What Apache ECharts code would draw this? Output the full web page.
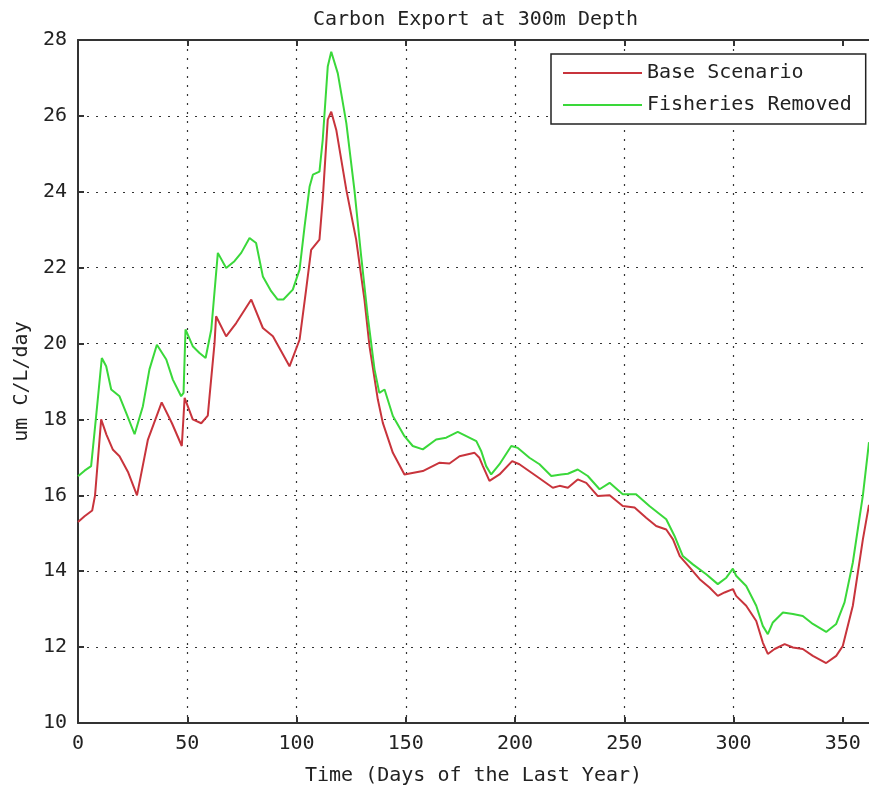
<!DOCTYPE html>
<html>
<head>
<meta charset="utf-8">
<script src="https://cdn.jsdelivr.net/npm/echarts@6/dist/echarts.min.js"></script>
<style>html,body{margin:0;padding:0;background:#fff;}#c{width:869px;height:791px;}</style>
</head>
<body>
<div id="c"></div>
<script>
var titleText = 'Carbon Export at 300m Depth';
var xName = 'Time (Days of the Last Year)';
var yName = 'um C/L/day';
var seriesNames = ['Base Scenario', 'Fisheries Removed'];
var xTicks = [0, 50, 100, 150, 200, 250, 300, 350];
var yTicks = [10, 12, 14, 16, 18, 20, 22, 24, 26, 28];

var baseDays = [0,3,6.5,7.8,10.6,13,16,19,23,27,32,38.3,43,47.5,48.8,52.5,56.4,59.4,60.2,62.5,63.2,67.8,72.4,79.3,84.6,89.2,96.8,101.4,104.4,106.7,110.5,112,114.3,115.9,118.2,122.8,127.3,131.1,133.4,137.2,139.5,144.1,149.4,157.8,165.5,170,174.6,181.5,183.7,185.3,188.3,192.9,198.7,202,209.7,217.3,220.4,224.2,228.7,232.6,237.9,243.3,249.3,254.7,260,264.6,269.2,272.3,275.4,279.9,284.5,289,292.8,295.9,299.7,301.2,305.8,310.4,313.4,315.7,318.8,323.4,327.2,331.7,336.3,342.4,347,350,354.6,359.2,362];
var baseValues = [15.3,15.45,15.6,16.0,18.0,17.6,17.2,17.03,16.6,16.0,17.47,18.45,17.9,17.3,18.57,18.0,17.9,18.1,18.61,20.02,20.72,20.19,20.54,21.16,20.41,20.19,19.40,20.1,21.42,22.47,22.74,23.8,25.9,26.11,25.63,24.05,22.74,21.16,19.93,18.53,17.91,17.12,16.55,16.64,16.86,16.84,17.03,17.12,16.99,16.77,16.38,16.55,16.9,16.82,16.51,16.2,16.25,16.2,16.42,16.33,15.98,16.0,15.72,15.68,15.41,15.19,15.1,14.84,14.4,14.1,13.79,13.57,13.35,13.44,13.53,13.35,13.09,12.69,12.12,11.82,11.95,12.08,11.99,11.95,11.77,11.58,11.77,12.03,13.09,14.84,15.75];

var fishDays = [0,3,6,8.3,10.9,12.9,15.2,19,22,25.9,29.7,32.7,36.1,40.4,43.4,47.2,48.3,49.2,52.5,55.6,58.4,61,64,67.8,71.6,74.7,78.5,81.5,84.6,88.4,91.4,94,98.3,101.4,103.7,106,107.5,110.5,112,114.3,115.9,118.9,122.8,126.5,129.6,132.6,135.7,137.9,140.3,144.1,149.4,153.2,157.8,163.9,168.5,173.8,177.7,182.3,184.5,186.8,189.1,192.9,198.3,201.3,206.6,211.2,216.6,221.1,224.2,228.7,233.3,238.7,243.3,249.3,255.4,261.5,269.2,273,276.8,281.4,287.5,292.8,296.7,299.7,301.2,305.8,310.4,313.4,315.7,318,322.6,327.2,331.7,336.3,342.4,347,350.8,354.6,359.2,362];
var fishValues = [16.5,16.65,16.77,18.09,19.62,19.4,18.79,18.61,18.18,17.61,18.35,19.32,19.97,19.58,19.05,18.61,18.7,20.37,19.93,19.75,19.62,20.37,22.39,21.99,22.17,22.39,22.78,22.65,21.77,21.38,21.16,21.16,21.42,21.95,23.09,24.14,24.45,24.53,25.37,27.3,27.69,27.12,25.81,24.05,22.3,20.72,19.32,18.7,18.79,18.09,17.56,17.3,17.21,17.47,17.52,17.67,17.56,17.43,17.17,16.77,16.55,16.82,17.3,17.25,16.99,16.82,16.51,16.55,16.57,16.68,16.51,16.16,16.33,16.03,16.03,15.72,15.37,14.93,14.4,14.18,13.92,13.66,13.83,14.07,13.88,13.61,13.09,12.56,12.34,12.65,12.91,12.87,12.82,12.61,12.4,12.61,13.18,14.23,16.0,17.4];

function zip(a, b) { return a.map(function (d, i) { return [d, b[i]]; }); }

var FONT = 'DejaVu Sans Mono';
var TXT = '#222';
var chart = echarts.init(document.getElementById('c'), null, { renderer: 'canvas' });
var gridStyle = { type: [2, 7], color: '#333', width: 1.2 };
var axisLineStyle = { color: '#333', width: 2 };
var tickStyle = { color: '#333', width: 2 };

chart.setOption({
  animation: false,
  backgroundColor: '#fff',
  title: {
    text: titleText, left: 308, top: 5,
    textStyle: { fontFamily: FONT, fontSize: 20, fontWeight: 'normal', color: TXT }
  },
  legend: {
    data: seriesNames, orient: 'vertical', left: 551, top: 54,
    padding: [9, 14, 9, 12], itemGap: 12, itemWidth: 79, itemHeight: 2,
    icon: 'rect', borderColor: '#222', borderWidth: 1.5, backgroundColor: '#fff',
    textStyle: { fontFamily: FONT, fontSize: 20, color: TXT }
  },
  grid: { left: 78, top: 40, bottom: 67, right: 0, containLabel: false },
  xAxis: [{
    type: 'value', min: 0, max: 362,
    name: xName, nameLocation: 'middle', nameGap: 43,
    nameTextStyle: { fontFamily: FONT, fontSize: 20, color: TXT },
    axisLine: { show: true, onZero: false, lineStyle: axisLineStyle },
    axisTick: { show: true, inside: true, length: 6, lineStyle: tickStyle, customValues: xTicks },
    axisLabel: { fontFamily: FONT, fontSize: 20, color: TXT, margin: 11, customValues: xTicks },
    splitLine: { show: true, lineStyle: gridStyle, showMinLine: false, showMaxLine: false }
  }, {
    type: 'value', position: 'top', min: 0, max: 362,
    axisLine: { show: true, onZero: false, lineStyle: axisLineStyle },
    axisTick: { show: true, inside: true, length: 6, lineStyle: tickStyle, customValues: xTicks },
    axisLabel: { show: false }, splitLine: { show: false }
  }],
  yAxis: {
    type: 'value', min: 10, max: 28, interval: 2,
    name: yName, nameLocation: 'middle', nameGap: 39, nameRotate: 90,
    nameTextStyle: { fontFamily: FONT, fontSize: 20, color: TXT },
    axisLine: { show: true, onZero: false, lineStyle: axisLineStyle },
    axisTick: { show: true, inside: true, length: 6, lineStyle: tickStyle, customValues: yTicks },
    axisLabel: { fontFamily: FONT, fontSize: 20, color: TXT, margin: 11, customValues: yTicks },
    splitLine: { show: true, lineStyle: gridStyle, showMinLine: false, showMaxLine: false }
  },
  series: [{
    name: seriesNames[0], type: 'line', data: zip(baseDays, baseValues),
    showSymbol: false, symbol: 'none', smooth: false,
    lineStyle: { color: '#c8343c', width: 2 }, itemStyle: { color: '#c8343c' }
  }, {
    name: seriesNames[1], type: 'line', data: zip(fishDays, fishValues),
    showSymbol: false, symbol: 'none', smooth: false,
    lineStyle: { color: '#3ad83a', width: 2 }, itemStyle: { color: '#3ad83a' }
  }]
});
</script>
</body>
</html>
